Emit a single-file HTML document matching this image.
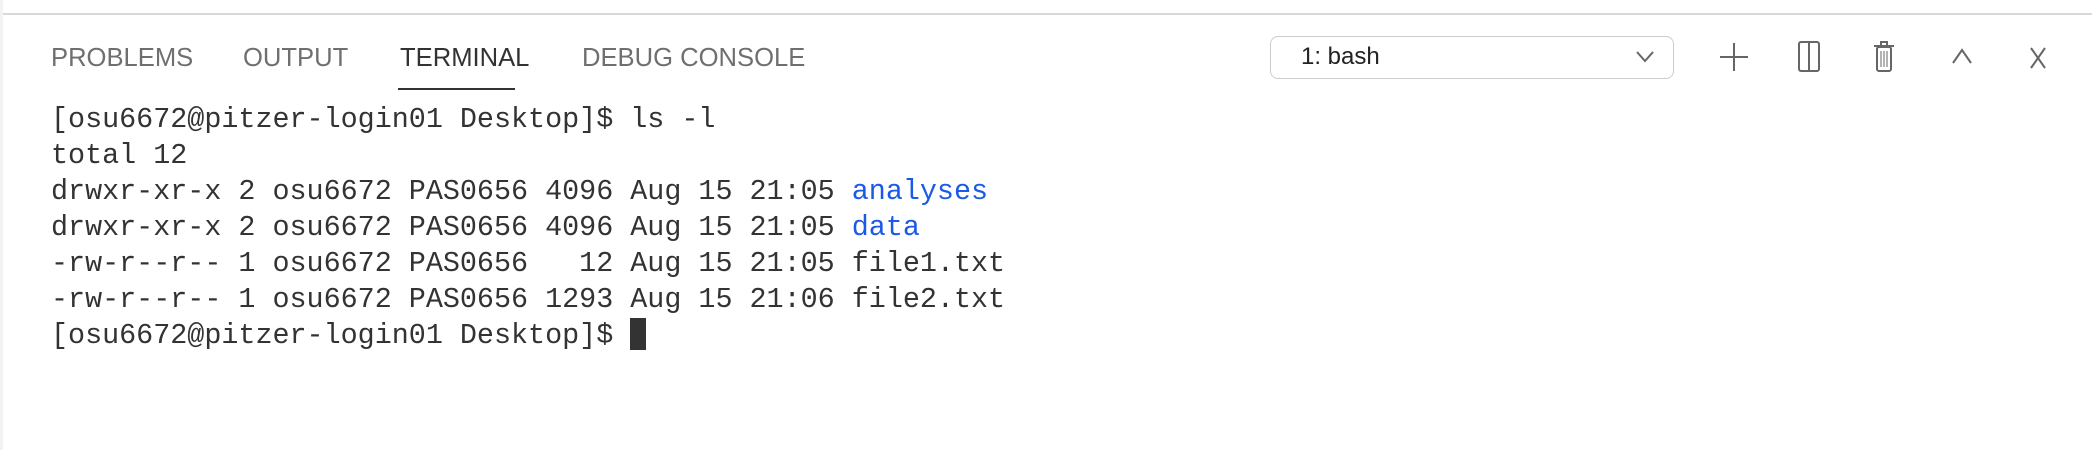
<!DOCTYPE html>
<html><head><meta charset="utf-8"><style>
body{margin:0;width:2092px;height:450px;background:#fff;position:relative;overflow:hidden;font-family:"Liberation Sans",sans-serif}
.a{position:absolute}
.tab{position:absolute;top:43px;font-size:25.6px;color:#6f6f6f;line-height:30px;white-space:nowrap}
.term{position:absolute;left:51px;top:102px;font-family:"Liberation Mono",monospace;font-size:28.4px;line-height:36px;color:#333;white-space:pre}
.b{color:#1a5ae6}
</style></head><body>
<div class="a" style="left:0;top:0;width:3px;height:450px;background:#f2f2f2"></div>
<div class="a" style="left:3px;top:13px;width:2089px;height:2px;background:#d8d8d8"></div>
<div class="tab" style="left:51px">PROBLEMS</div>
<div class="tab" style="left:243px">OUTPUT</div>
<div class="tab" style="left:400px;color:#333">TERMINAL</div>
<div class="a" style="left:398px;top:88px;width:117px;height:2px;background:#333"></div>
<div class="tab" style="left:582px">DEBUG CONSOLE</div>
<div class="a" style="left:1270px;top:36px;width:404px;height:43px;border:1px solid #ccc;border-radius:8px;box-sizing:border-box"></div>
<div class="a" style="left:1301px;top:43px;font-size:24px;color:#222">1: bash</div>
<svg class="a" style="left:0;top:0" width="2092" height="100">
<g fill="none" stroke="#666" stroke-width="2">
<polyline points="1637,52 1645,61 1653,52"/>
<line x1="1734" y1="43" x2="1734" y2="71"/><line x1="1720" y1="57" x2="1748" y2="57"/>
<rect x="1799" y="42" width="20" height="29" rx="2"/><line x1="1809" y1="42" x2="1809" y2="71"/>
<rect x="1877" y="47" width="14" height="24" rx="2"/><line x1="1874" y1="46" x2="1894" y2="46"/><rect x="1881" y="42" width="6" height="4"/>
<line x1="1881" y1="51" x2="1881" y2="67" stroke-width="1"/><line x1="1884" y1="51" x2="1884" y2="67" stroke-width="1"/><line x1="1887" y1="51" x2="1887" y2="67" stroke-width="1"/>
<polyline points="1953,63 1962,50 1971,63"/>
<line x1="2031" y1="48" x2="2045" y2="68"/><line x1="2045" y1="48" x2="2031" y2="68"/>
</g></svg>
<div class="term">[osu6672@pitzer-login01 Desktop]$ ls -l
total 12
drwxr-xr-x 2 osu6672 PAS0656 4096 Aug 15 21:05 <span class="b">analyses</span>
drwxr-xr-x 2 osu6672 PAS0656 4096 Aug 15 21:05 <span class="b">data</span>
-rw-r--r-- 1 osu6672 PAS0656   12 Aug 15 21:05 file1.txt
-rw-r--r-- 1 osu6672 PAS0656 1293 Aug 15 21:06 file2.txt
[osu6672@pitzer-login01 Desktop]$ </div>
<div class="a" style="left:630px;top:318px;width:16px;height:32px;background:#333"></div>
</body></html>
